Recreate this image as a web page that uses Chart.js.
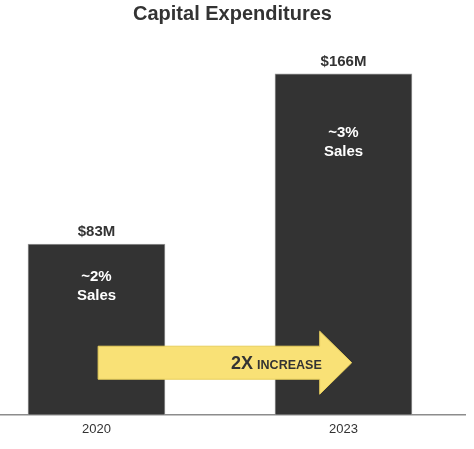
<!DOCTYPE html>
<html>
<head>
<meta charset="utf-8">
<script src="https://cdn.jsdelivr.net/npm/chart.js@4.4.1/dist/chart.umd.min.js"></script>
<style>
  html, body { margin: 0; padding: 0; background: #ffffff; }
  #wrap { width: 474px; height: 449px; position: relative; }
</style>
</head>
<body>
<div id="wrap"><canvas id="c"></canvas></div>
<script>
// ---- data ----
const years = [2020, 2023];
const capex = [83, 166];                 // $M
const valueLabels = ['$83M', '$166M'];
const noteLines = [['~2%', 'Sales'], ['~3%', 'Sales']];
const chartTitle = 'Capital Expenditures';
const arrowBold = '2X';
const arrowText = 'INCREASE';

const FONT = "'Liberation Sans', Arial, Helvetica, sans-serif";
const DARK = '#333333';

const labelPlugin = {
  id: 'barLabels',
  afterDatasetsDraw(chart, args, opts) {
    const ctx = chart.ctx;
    const meta = chart.getDatasetMeta(0);
    const xs = chart.scales.x, ys = chart.scales.y;

    // arrow (positioned in data units)
    const a = opts.arrow;
    const x0 = xs.getPixelForValue(a.from);
    const xTip = xs.getPixelForValue(a.to);
    const yc = ys.getPixelForValue(a.level);
    const xShaft = xTip - a.headLen;
    ctx.save();
    ctx.beginPath();
    ctx.moveTo(x0, yc - a.bodyHalf);
    ctx.lineTo(xShaft, yc - a.bodyHalf);
    ctx.lineTo(xShaft, yc - a.headHalf);
    ctx.lineTo(xTip, yc);
    ctx.lineTo(xShaft, yc + a.headHalf);
    ctx.lineTo(xShaft, yc + a.bodyHalf);
    ctx.lineTo(x0, yc + a.bodyHalf);
    ctx.closePath();
    ctx.fillStyle = '#F9E176';
    ctx.fill();
    ctx.lineWidth = 1;
    ctx.strokeStyle = '#E8CF5C';
    ctx.stroke();

    // arrow text, right-aligned near shaft end
    ctx.fillStyle = DARK;
    ctx.textBaseline = 'alphabetic';
    ctx.font = 'bold 12.5px ' + FONT;
    const wInc = ctx.measureText(arrowText).width;
    const right = xShaft + 2;
    const base = yc + 6.5;
    ctx.textAlign = 'left';
    ctx.fillText(arrowText, right - wInc, base);
    ctx.font = 'bold 18px ' + FONT;
    const w2 = ctx.measureText(arrowBold).width;
    ctx.fillText(arrowBold, right - wInc - 4 - w2, base);

    // value labels + notes
    meta.data.forEach((bar, i) => {
      ctx.textAlign = 'center';
      ctx.textBaseline = 'middle';
      ctx.fillStyle = DARK;
      ctx.font = 'bold 15px ' + FONT;
      ctx.fillText(valueLabels[i], bar.x, bar.y - 12);
      ctx.fillStyle = '#ffffff';
      ctx.font = 'bold 15px ' + FONT;
      const off = opts.noteOffsets[i];
      noteLines[i].forEach((t, j) => {
        ctx.fillText(t, bar.x, bar.y + off + j * 19);
      });
    });
    ctx.restore();
  }
};

new Chart(document.getElementById('c'), {
  type: 'bar',
  data: {
    datasets: [{
      data: years.map((y, i) => ({ x: y, y: capex[i] })),
      backgroundColor: DARK,
      borderColor: '#9a9a9a',
      borderWidth: 1,
      borderSkipped: 'bottom',
      barThickness: 137,
      clip: false
    }]
  },
  options: {
    responsive: true,
    maintainAspectRatio: false,
    animation: false,
    layout: { padding: { left: 0, right: 9, top: 0, bottom: 5 } },
    plugins: {
      legend: { display: false },
      tooltip: { enabled: false },
      title: {
        display: true,
        text: chartTitle,
        color: DARK,
        font: { family: FONT, size: 20, weight: 'bold' },
        padding: { top: 2, bottom: 4 }
      },
      barLabels: {
        noteOffsets: [33, 59],
        arrow: { from: 2020.02, to: 2023.1, level: 25.2, headLen: 32, bodyHalf: 16.5, headHalf: 31.5 }
      }
    },
    scales: {
      x: {
        type: 'linear',
        offset: false,
        min: 2018.828,
        max: 2024.476,
        afterBuildTicks: (s) => { s.ticks = years.map(v => ({ value: v })); },
        grid: { display: false, drawTicks: false, offset: false },
        border: { display: true, color: '#8c8c8c', width: 1.5 },
        ticks: {
          color: DARK,
          padding: 7,
          font: { family: FONT, size: 13 },
          callback: (v) => String(v),
          maxRotation: 0,
          autoSkip: false
        }
      },
      y: {
        display: false,
        min: 0,
        max: 187.4
      }
    }
  },
  plugins: [labelPlugin]
});
</script>
</body>
</html>
